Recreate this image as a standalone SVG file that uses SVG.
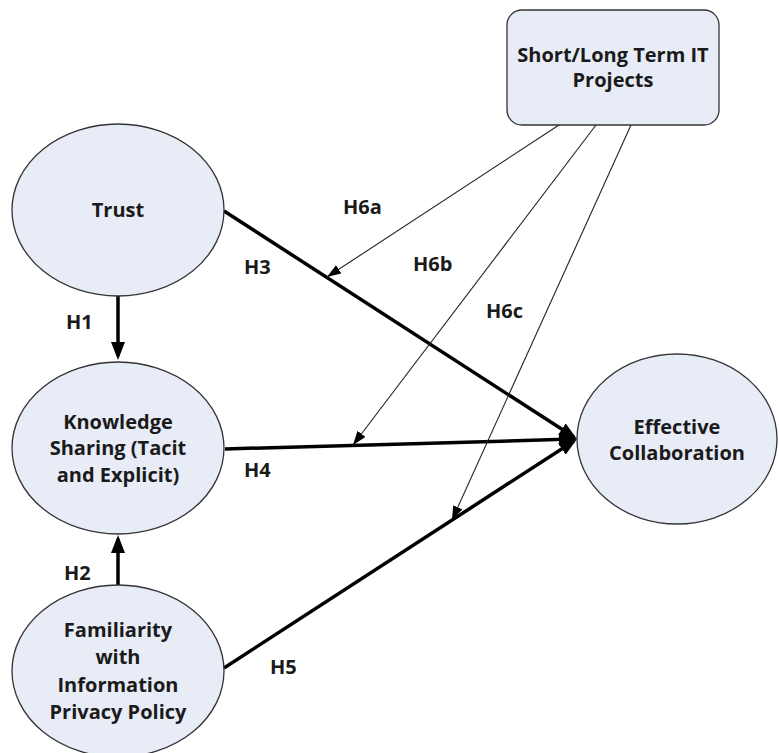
<svg xmlns="http://www.w3.org/2000/svg" width="779" height="753" viewBox="0 0 779 753">
<style>
.node{fill:#E8ECF6;stroke:#333;stroke-width:1.3}
.lbl{font-family:"Open Sans","Liberation Sans",sans-serif;font-weight:bold;font-size:20px;fill:#1a1a1a;text-anchor:middle}
.hl{font-family:"Open Sans","Liberation Sans",sans-serif;font-weight:bold;font-size:20px;fill:#1a1a1a}
.thick{stroke:#000;stroke-width:3.5;fill:none}
.thin{stroke:#222;stroke-width:1.1;fill:none}
</style>
<defs>
<marker id="ah" markerUnits="userSpaceOnUse" markerWidth="18" markerHeight="14" refX="14" refY="7" orient="auto"><path d="M0,0 L18,7 L0,14 z" fill="#000"/></marker>
<marker id="at" markerUnits="userSpaceOnUse" markerWidth="14" markerHeight="10" refX="14" refY="5" orient="auto"><path d="M0,0 L14,5 L0,10 z" fill="#000"/></marker>
</defs>
<rect width="779" height="753" fill="#fff"/>
<g id="connectors">
<line class="thick" x1="118" y1="296" x2="118" y2="356" marker-end="url(#ah)"/>
<line class="thick" x1="118" y1="585" x2="118" y2="539" marker-end="url(#ah)"/>
<line class="thick" x1="224" y1="211" x2="573.6" y2="436.8" marker-end="url(#ah)"/>
<line class="thick" x1="225" y1="449" x2="573" y2="439.1" marker-end="url(#ah)"/>
<line class="thick" x1="224" y1="668" x2="573.6" y2="441.2" marker-end="url(#ah)"/>
<line class="thin" x1="559" y1="125" x2="327" y2="277" marker-end="url(#at)"/>
<line class="thin" x1="596" y1="125" x2="353" y2="445" marker-end="url(#at)"/>
<line class="thin" x1="631" y1="125" x2="452" y2="520" marker-end="url(#at)"/>
<text class="hl" x="66" y="329">H1</text>
<text class="hl" x="64" y="580">H2</text>
<text class="hl" x="244" y="274">H3</text>
<text class="hl" x="244" y="477">H4</text>
<text class="hl" x="270" y="674">H5</text>
<text class="hl" x="343" y="214">H6a</text>
<text class="hl" x="413" y="271">H6b</text>
<text class="hl" x="486" y="318">H6c</text>
</g>
<g id="projects">
<rect class="node" x="507" y="10" width="212" height="115" rx="15"/>
<text class="lbl" x="613" y="62" font-size="18">Short/Long Term IT</text>
<text class="lbl" x="613" y="87" font-size="18">Projects</text>
</g>
<g id="trust">
<ellipse class="node" cx="118" cy="210" rx="106" ry="86"/>
<text class="lbl" x="118" y="217">Trust</text>
</g>
<g id="knowledge">
<ellipse class="node" cx="118" cy="448" rx="106" ry="86"/>
<text class="lbl" x="118" y="429">Knowledge</text>
<text class="lbl" x="118" y="455">Sharing (Tacit</text>
<text class="lbl" x="118" y="482">and Explicit)</text>
</g>
<g id="familiarity">
<ellipse class="node" cx="118" cy="671" rx="106" ry="86"/>
<text class="lbl" x="118" y="637">Familiarity</text>
<text class="lbl" x="118" y="664">with</text>
<text class="lbl" x="118" y="692">Information</text>
<text class="lbl" x="118" y="719">Privacy Policy</text>
</g>
<g id="effective">
<ellipse class="node" cx="677" cy="439" rx="100" ry="85"/>
<text class="lbl" x="677" y="434">Effective</text>
<text class="lbl" x="677" y="460">Collaboration</text>
</g>
</svg>
